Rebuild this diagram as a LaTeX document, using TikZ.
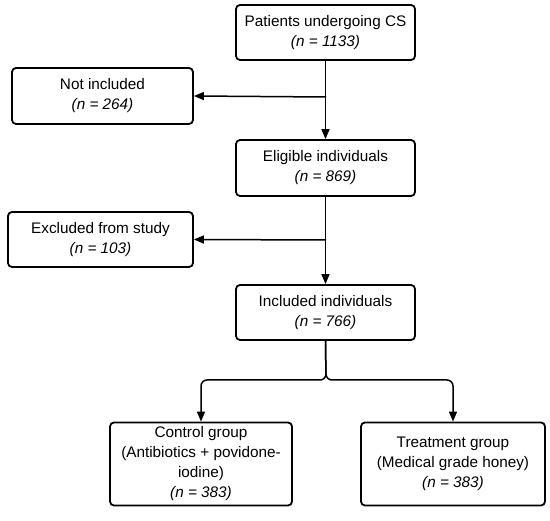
\documentclass[tikz,border=0pt]{standalone}
\usepackage{fontspec}
\setmainfont{Liberation Sans}
\usetikzlibrary{arrows.meta}
\begin{document}
\begin{tikzpicture}[x=1pt,y=-1pt,
  box/.style={draw=black, line width=1.8pt, rounded corners=4pt, align=center,
    inner sep=0pt, font=\fontsize{15.3}{20}\selectfont},
  arr/.style={line width=1.5pt, -{Triangle[length=10pt,width=8pt]}},
  ln/.style={line width=1.5pt}]
\useasboundingbox (0,0) rectangle (550,521);
\node[box, minimum width=179pt, minimum height=55pt] (top) at (325.5,32.5) {Patients undergoing CS\\\textit{(n = 1133)}};
\node[box, minimum width=181pt, minimum height=56pt] (ni) at (102.5,96) {Not included\\\textit{(n = 264)}};
\node[box, minimum width=179pt, minimum height=56pt] (el) at (325.5,168) {Eligible individuals\\\textit{(n = 869)}};
\node[box, minimum width=185pt, minimum height=55pt] (ex) at (100.5,239.5) {Excluded from study\\\textit{(n = 103)}};
\node[box, minimum width=179pt, minimum height=55pt] (inc) at (325.5,312.5) {Included individuals\\\textit{(n = 766)}};
\node[box, minimum width=182pt, minimum height=83pt] (ctrl) at (201,464) {Control group\\(Antibiotics + povidone-\\iodine)\\\textit{(n = 383)}};
\node[box, minimum width=184pt, minimum height=83pt] (trt) at (453,464) {Treatment group\\(Medical grade honey)\\\textit{(n = 383)}};
\coordinate (j1) at (326,97);
\coordinate (j2) at (326,240);
\coordinate (br) at (326,380);
\draw[arr] (top.south) -- (el.north);
\draw[arr] (j1) -- (ni.east);
\draw[arr] (el.south) -- (inc.north);
\draw[arr] (j2) -- (ex.east);
\draw[arr, rounded corners=6pt] (inc.south) -- (br) -| (ctrl.north);
\draw[arr, rounded corners=6pt] (inc.south) -- (br) -| (trt.north);
\end{tikzpicture}
\end{document}
